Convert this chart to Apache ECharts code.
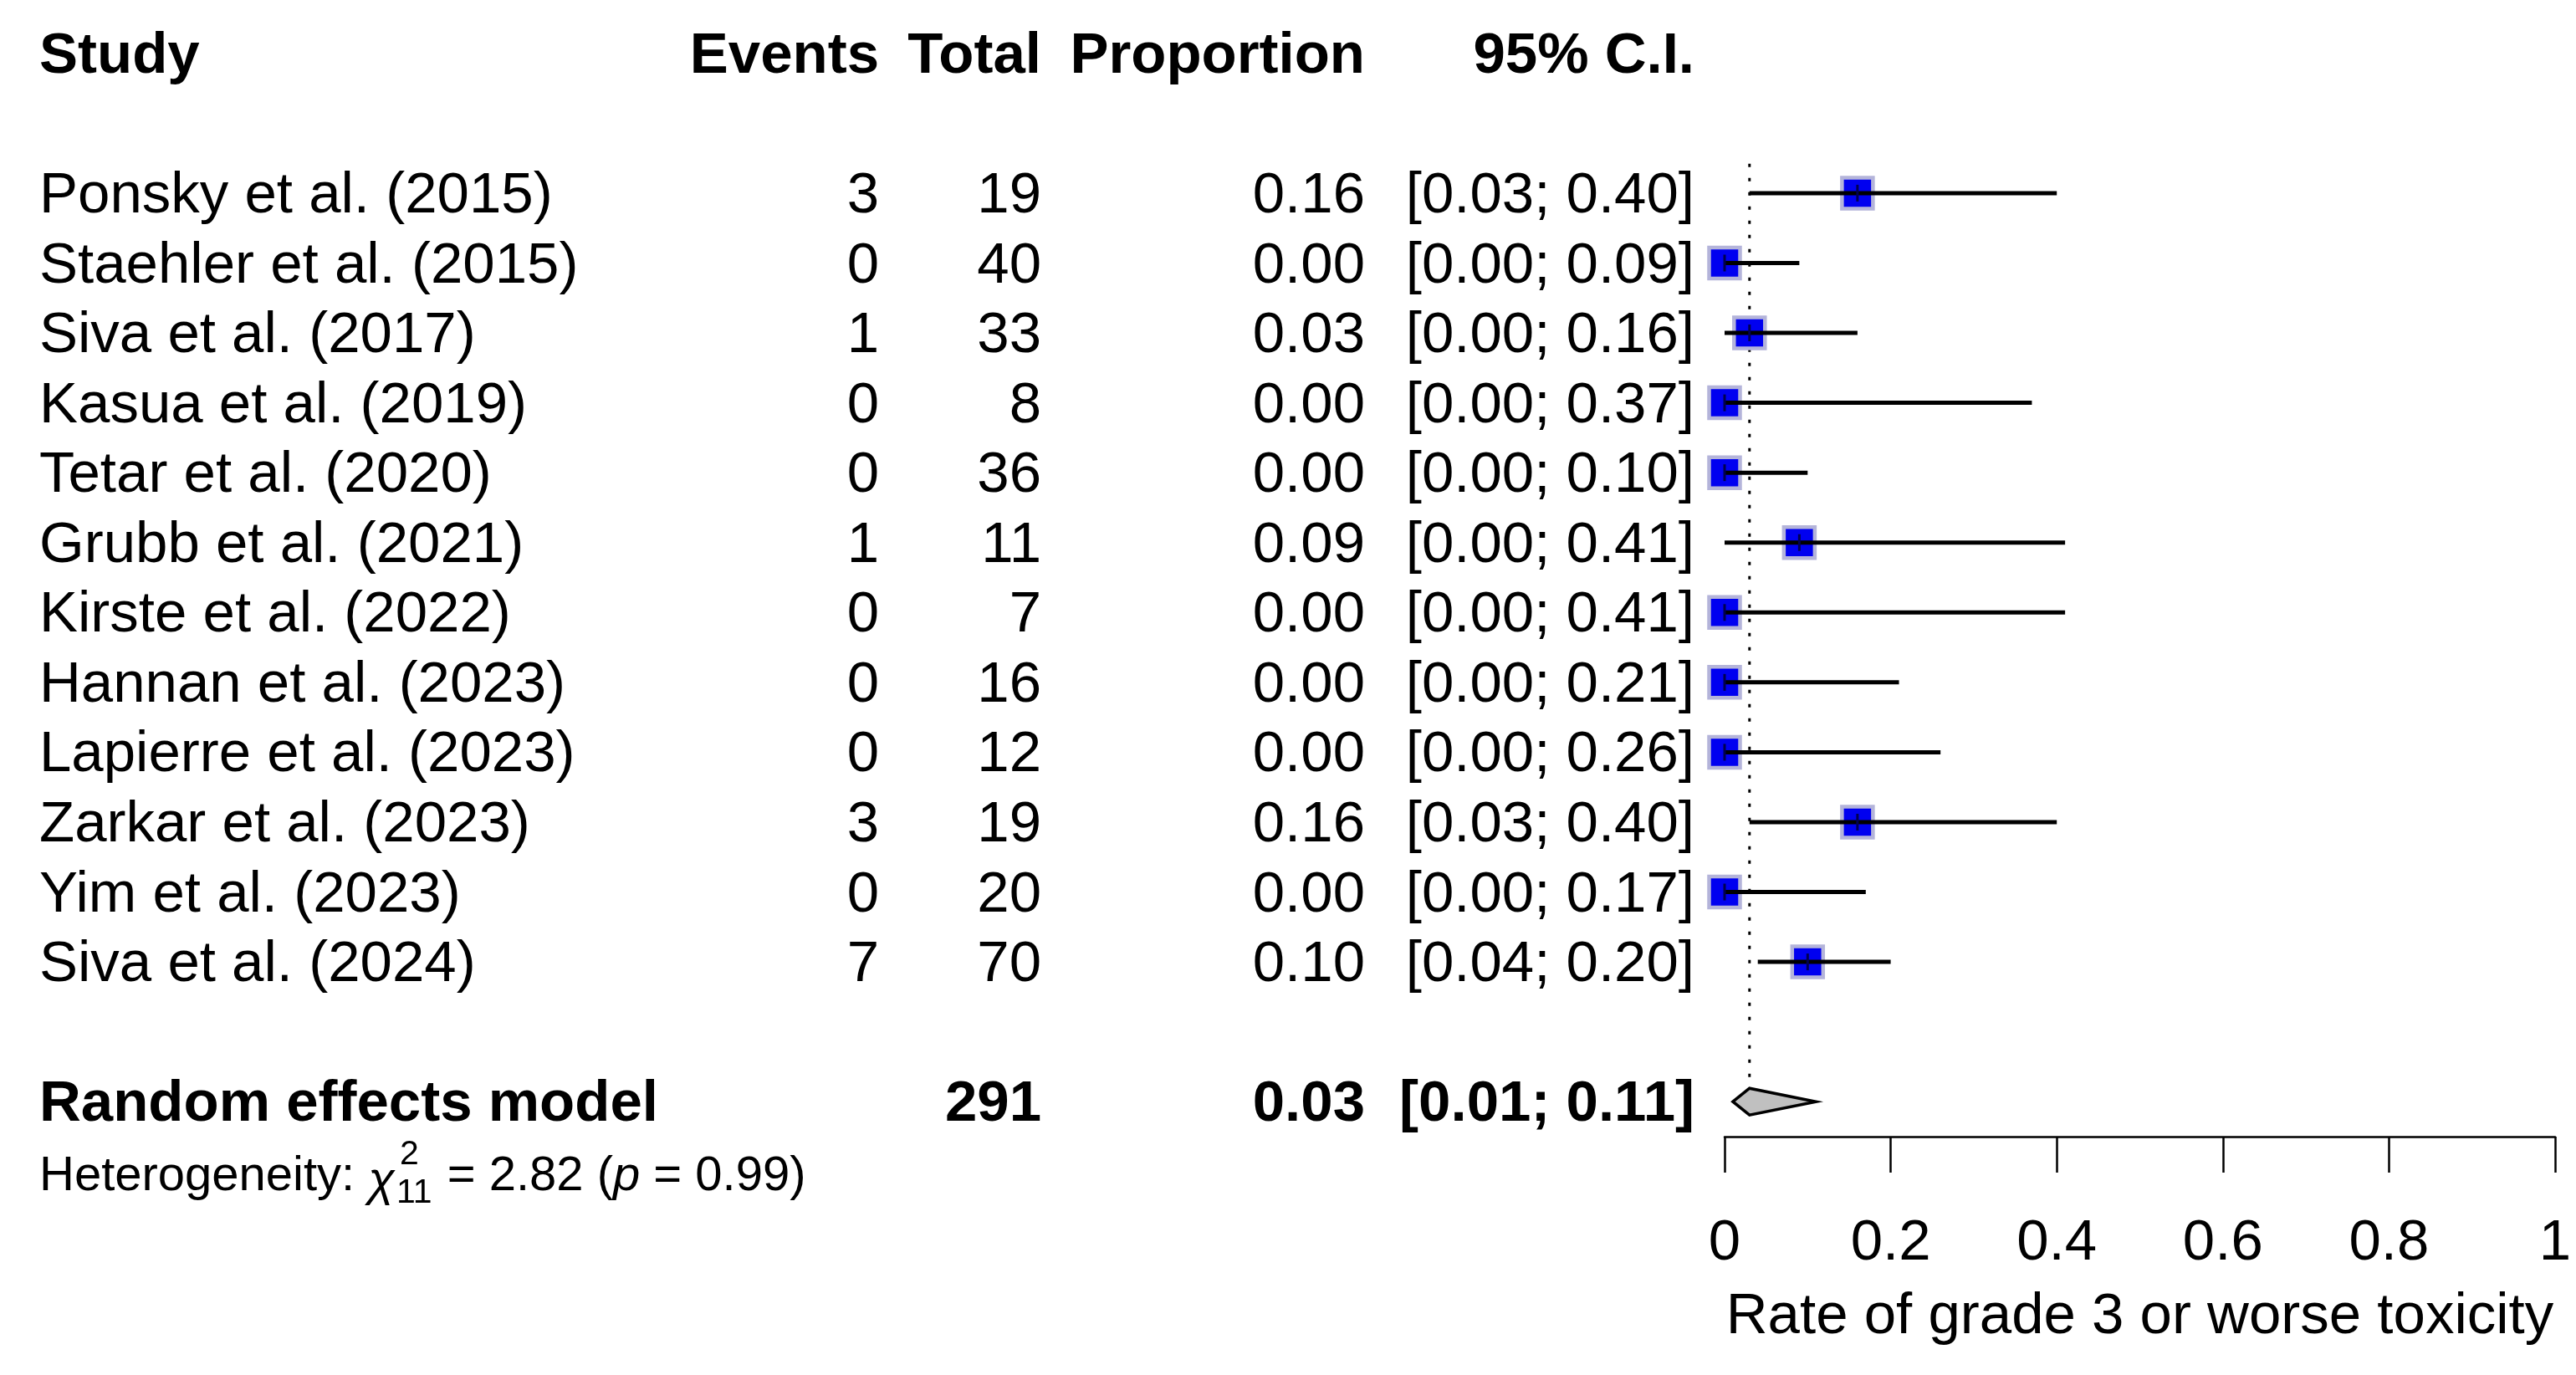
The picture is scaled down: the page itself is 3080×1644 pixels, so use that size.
<!DOCTYPE html>
<html><head><meta charset="utf-8">
<script src="https://cdn.jsdelivr.net/npm/echarts@6/dist/echarts.min.js"></script>
<style>html,body{margin:0;padding:0;background:#fff}#c{width:3080px;height:1644px}</style>
</head><body><div id="c"></div>
<script>
// ---- data ----
const studies = ['Ponsky et al. (2015)','Staehler et al. (2015)','Siva et al. (2017)','Kasua et al. (2019)','Tetar et al. (2020)','Grubb et al. (2021)','Kirste et al. (2022)','Hannan et al. (2023)','Lapierre et al. (2023)','Zarkar et al. (2023)','Yim et al. (2023)','Siva et al. (2024)'];
const events = [3,0,1,0,0,1,0,0,0,3,0,7];
const totals = [19,40,33,8,36,11,7,16,12,19,20,70];
const proportions = [0.16,0.00,0.03,0.00,0.00,0.09,0.00,0.00,0.00,0.16,0.00,0.10];
const ciLower = [0.03,0.00,0.00,0.00,0.00,0.00,0.00,0.00,0.00,0.03,0.00,0.04];
const ciUpper = [0.40,0.09,0.16,0.37,0.10,0.41,0.41,0.21,0.26,0.40,0.17,0.20];
const headers = ['Study','Events','Total','Proportion','95% C.I.'];
const pooledLabel = 'Random effects model';
const pooledTotal = 291;
const pooledEst = 0.03, pooledLower = 0.01, pooledUpper = 0.11;
const hetChi2 = '2.82', hetDf = '11', hetP = '0.99';
const xTicks = [0,0.2,0.4,0.6,0.8,1];
const xTitle = 'Rate of grade 3 or worse toxicity';

// ---- layout ----
const FF = '"Liberation Sans", Arial, Helvetica, sans-serif';
const FS = 69, HFS = 58, SFS = 41;
const TY = 4; // text vertical nudge
const colStudy = 47, colEvents = 1051, colTotal = 1245, colProp = 1632, colCI = 2026;
const headerRow = -2, pooledRow = 13, hetRow = 14;
const ci = (l,h) => '[' + l.toFixed(2) + '; ' + h.toFixed(2) + ']';

const mctx = document.createElement('canvas').getContext('2d');
function tw(txt, size, style){ mctx.font = (style||'') + ' ' + size + 'px ' + FF; return mctx.measureText(txt).width; }

function txt(t, x, y, opts){
  opts = opts || {};
  return {type:'text', style:{text:t, x:x, y:y + TY, fill:'#000', fontSize:opts.size||FS, fontFamily:FF,
    fontWeight:opts.bold?'bold':'normal', fontStyle:opts.italic?'italic':'normal',
    align:opts.align||'left', verticalAlign:'middle'}};
}

const chart = echarts.init(document.getElementById('c'), null, {renderer:'canvas'});

const option = {
  animation:false,
  backgroundColor:'#fff',
  grid:{left:2062, right:25, top:22, bottom:285, containLabel:false},
  xAxis:{type:'value', min:0, max:1, interval:0.2,
    axisLine:{show:true, onZero:false, lineStyle:{color:'#000', width:2.5}},
    axisTick:{show:true, length:43, customValues:xTicks, lineStyle:{color:'#000', width:2.5}},
    axisLabel:{customValues:xTicks, fontSize:FS, fontFamily:FF, color:'#000', margin:93, lineHeight:FS},
    splitLine:{show:false},
    name:xTitle, nameLocation:'middle', nameGap:216,
    nameTextStyle:{fontSize:FS, fontFamily:FF, color:'#000', verticalAlign:'middle'}},
  yAxis:{type:'value', inverse:true, min:-2.5, max:13.5, show:false},
  series:[
    // reference dotted line + pooled diamond
    {type:'custom', clip:false, z:1, data:[[pooledEst, pooledRow, pooledLower, pooledUpper]],
     renderItem:function(params, api){
       const est = api.value(0), row = api.value(1);
       const c = api.coord([est, row]);
       const xl = api.coord([api.value(2), row])[0], xh = api.coord([api.value(3), row])[0];
       const top = api.coord([est, -0.42])[1];
       const h = 16;
       return {type:'group', children:[
         {type:'line', shape:{x1:c[0], y1:top, x2:c[0], y2:c[1]-h}, style:{stroke:'#000', lineWidth:3, lineDash:[4,13]}},
         {type:'polygon', shape:{points:[[xl,c[1]],[c[0],c[1]-h],[xh,c[1]],[c[0],c[1]+h]]}, style:{fill:'#c0c0c0', stroke:'#000', lineWidth:3.5}}
       ]};
     }},
    // study squares and CIs
    {type:'custom', clip:false, z:2,
     data: proportions.map((p,i)=>[p, i, ciLower[i], ciUpper[i]]),
     renderItem:function(params, api){
       const est = api.value(0), row = api.value(1);
       const c = api.coord([est, row]);
       const xl = api.coord([api.value(2), row])[0], xh = api.coord([api.value(3), row])[0];
       const s = 37;
       return {type:'group', children:[
         {type:'rect', shape:{x:c[0]-s/2, y:c[1]-s/2, width:s, height:s}, style:{fill:'#0000f0', stroke:'#b4b4da', lineWidth:4.5}},
         {type:'line', shape:{x1:xl, y1:c[1], x2:xh, y2:c[1]}, style:{stroke:'#000', lineWidth:5}},
         {type:'line', shape:{x1:c[0], y1:c[1]-10, x2:c[0], y2:c[1]+10}, style:{stroke:'#000050', lineWidth:3}}
       ]};
     }},
    // study text table
    {type:'custom', clip:false, z:3,
     data: studies.map((s,i)=>[0, i]),
     renderItem:function(params, api){
       const i = params.dataIndex;
       const y = api.coord([0, api.value(1)])[1];
       return {type:'group', children:[
         txt(studies[i], colStudy, y),
         txt(String(events[i]), colEvents, y, {align:'right'}),
         txt(String(totals[i]), colTotal, y, {align:'right'}),
         txt(proportions[i].toFixed(2), colProp, y, {align:'right'}),
         txt(ci(ciLower[i], ciUpper[i]), colCI, y, {align:'right'})
       ]};
     }},
    // header, pooled row, heterogeneity
    {type:'custom', clip:false, z:3, data:[[0, headerRow]],
     renderItem:function(params, api){
       const y = api.coord([0, api.value(1)])[1];
       const yp = api.coord([0, pooledRow])[1];
       const yh = api.coord([0, hetRow])[1] + 2;
       const ch = [
         txt(headers[0], colStudy, y, {bold:true}),
         txt(headers[1], colEvents, y, {bold:true, align:'right'}),
         txt(headers[2], colTotal, y, {bold:true, align:'right'}),
         txt(headers[3], colProp, y, {bold:true, align:'right'}),
         txt(headers[4], colCI, y, {bold:true, align:'right'}),
         txt(pooledLabel, colStudy, yp, {bold:true}),
         txt(String(pooledTotal), colTotal, yp, {bold:true, align:'right'}),
         txt(pooledEst.toFixed(2), colProp, yp, {bold:true, align:'right'}),
         txt(ci(pooledLower, pooledUpper), colCI, yp, {bold:true, align:'right'})
       ];
       // heterogeneity line
       let x = colStudy;
       const s1 = 'Heterogeneity: ';
       ch.push(txt(s1, x, yh, {size:HFS})); x += tw(s1, HFS);
       ch.push(txt('\u03c7', x, yh + 6, {size:HFS, italic:true})); x += tw('\u03c7', HFS, 'italic') + 2;
       ch.push(txt('2', x + 4, yh - 26, {size:SFS}));
       ch.push(txt(hetDf, x, yh + 20, {size:SFS}));
       x += Math.max(tw('2', SFS) + 4, tw(hetDf, SFS)) + 2;
       const s2 = ' = ' + hetChi2 + ' (';
       ch.push(txt(s2, x, yh, {size:HFS})); x += tw(s2, HFS);
       ch.push(txt('p', x, yh, {size:HFS, italic:true})); x += tw('p', HFS, 'italic');
       ch.push(txt(' = ' + hetP + ')', x, yh, {size:HFS}));
       return {type:'group', children:ch};
     }}
  ]
};
chart.setOption(option);
</script>
</body></html>
